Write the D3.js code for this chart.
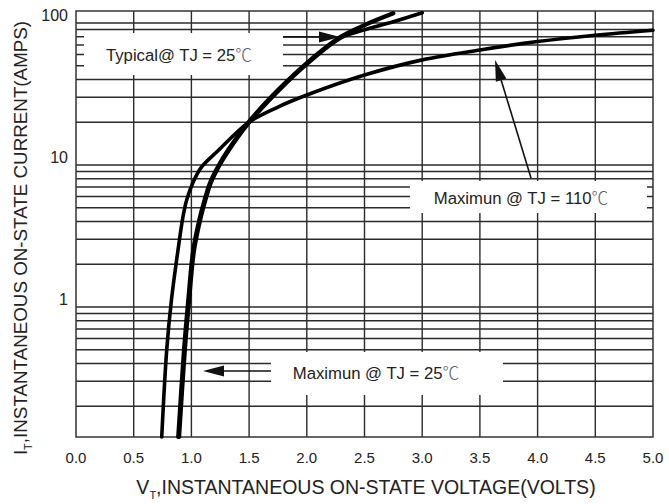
<!DOCTYPE html>
<html>
<head>
<meta charset="utf-8">
<script src="https://cdn.jsdelivr.net/npm/d3@7"></script>
<style>
  body { margin: 0; background: #fff; }
  svg { display: block; font-family: Arial, "Liberation Sans", sans-serif; }
</style>
</head>
<body>
<svg id="chart" width="669" height="504"></svg>
<script>
// on-state characteristic
var xTicks = [0, 0.5, 1.0, 1.5, 2.0, 2.5, 3.0, 3.5, 4.0, 4.5, 5.0];
var yTickLabels = [1, 10, 100];

var vTyp25 = [0.886, 0.936, 0.973, 1.016, 1.075, 1.114, 1.161, 1.23, 1.317, 1.49, 1.75, 2.0, 2.29, 2.5, 2.75];
var iTyp25 = [0.1215, 0.5, 1.12, 2.52, 4.32, 5.67, 7.48, 9.73, 12.7, 19.8, 33.7, 52.3, 79.6, 96.7, 117];

var vMax25 = [0.896, 0.946, 0.983, 1.026, 1.085, 1.124, 1.171, 1.24, 1.327, 1.5, 1.76, 2.01, 2.3, 2.5, 2.75, 3.0];
var iMax25 = [0.1215, 0.5, 1.12, 2.52, 4.32, 5.67, 7.48, 9.73, 12.7, 19.8, 33.5, 52, 79, 89.6, 102, 118];

var vMax110 = [0.743, 0.786, 0.827, 0.884, 0.927, 0.959, 1.012, 1.09, 1.235, 1.49, 1.75, 2.0, 2.5, 3.0, 3.5, 4.0, 4.5, 5.0];
var iMax110 = [0.1215, 0.498, 1.12, 2.52, 4.32, 5.67, 7.48, 9.73, 12.7, 19.8, 25.6, 31.1, 43, 55, 64.6, 74, 82, 89];

var svg = d3.select("#chart");
var plotL = 76, plotR = 653, plotT = 11, plotB = 437;

var x = d3.scaleLinear().domain([0, 5]).range([plotL, plotR]);
var y = d3.scaleLog().domain([0.1215, 121.5]).range([plotB, plotT]);

var gridColor = "#2b2b2b";

// horizontal log grid
svg.append("g")
  .selectAll("line")
  .data(y.ticks())
  .enter().append("line")
  .attr("x1", plotL).attr("x2", plotR)
  .attr("y1", function (d) { return y(d); })
  .attr("y2", function (d) { return y(d); })
  .attr("stroke", gridColor)
  .attr("stroke-width", 1.4);

// vertical grid
svg.append("g")
  .selectAll("line")
  .data(xTicks.slice(1, -1))
  .enter().append("line")
  .attr("x1", function (d) { return x(d); })
  .attr("x2", function (d) { return x(d); })
  .attr("y1", plotT).attr("y2", plotB)
  .attr("stroke", gridColor)
  .attr("stroke-width", 1.4);

// white label boxes knock out the grid
var boxes = [
  { x0: 84, x1: 283, y0: 33, y1: 75 },
  { x0: 410, x1: 647, y0: 181, y1: 213 },
  { x0: 271, x1: 503, y0: 352, y1: 395 }
];
svg.append("g")
  .selectAll("rect")
  .data(boxes)
  .enter().append("rect")
  .attr("x", function (d) { return d.x0; })
  .attr("y", function (d) { return d.y0; })
  .attr("width", function (d) { return d.x1 - d.x0; })
  .attr("height", function (d) { return d.y1 - d.y0; })
  .attr("fill", "#fff");

// frame
svg.append("rect")
  .attr("x", plotL).attr("y", plotT)
  .attr("width", plotR - plotL).attr("height", plotB - plotT)
  .attr("fill", "none")
  .attr("stroke", "#333")
  .attr("stroke-width", 1.5);

// curves
var line = d3.line()
  .x(function (d) { return x(d[0]); })
  .y(function (d) { return y(d[1]); })
  .curve(d3.curveCatmullRom.alpha(0.5));

function pairs(vs, is) {
  return vs.map(function (v, k) { return [v, is[k]]; });
}

var curves = [
  { pts: pairs(vMax110, iMax110), w: 3.6 },
  { pts: pairs(vMax25, iMax25), w: 3.6 },
  { pts: pairs(vTyp25, iTyp25), w: 4.2 }
];
svg.append("g")
  .selectAll("path")
  .data(curves)
  .enter().append("path")
  .attr("d", function (d) { return line(d.pts); })
  .attr("fill", "none")
  .attr("stroke", "#000")
  .attr("stroke-width", function (d) { return d.w; })
  .attr("stroke-linecap", "round")
  .attr("stroke-linejoin", "round");

// arrows
function arrow(x1, y1, x2, y2) {
  var len = 21, hw = 5.5;
  var dx = x2 - x1, dy = y2 - y1;
  var L = Math.sqrt(dx * dx + dy * dy);
  var ux = dx / L, uy = dy / L;
  var bx = x2 - ux * len, by = y2 - uy * len;
  svg.append("line")
    .attr("x1", x1).attr("y1", y1).attr("x2", bx).attr("y2", by)
    .attr("stroke", "#111").attr("stroke-width", 1.6);
  svg.append("path")
    .attr("d", "M" + x2 + "," + y2 +
      "L" + (bx - uy * hw) + "," + (by + ux * hw) +
      "L" + (bx + uy * hw) + "," + (by - ux * hw) + "Z")
    .attr("fill", "#111");
}
arrow(283, 37, 340, 37);
arrow(531, 178, 495, 60);
arrow(271, 371, 203, 371);

// annotation text
var notes = [
  { t: "Typical@ TJ = 25", x: 179, y: 61 },
  { t: "Maximun @ TJ = 110", x: 521, y: 204 },
  { t: "Maximun @ TJ = 25", x: 376, y: 379 }
];
notes.forEach(function (n) {
  var t = svg.append("text")
    .attr("x", n.x).attr("y", n.y)
    .attr("text-anchor", "middle")
    .attr("font-size", 16.7)
    .attr("fill", "#222")
    .text(n.t);
  t.append("tspan")
    .attr("fill", "#5a6070")
    .attr("font-family", "'Noto Sans CJK SC', sans-serif")
    .attr("font-weight", 300)
    .text("℃");
});

// x tick labels
svg.append("g")
  .selectAll("text")
  .data(xTicks)
  .enter().append("text")
  .attr("x", function (d) { return x(d); })
  .attr("y", 463)
  .attr("text-anchor", "middle")
  .attr("font-size", 15)
  .attr("fill", "#222")
  .text(function (d) { return d3.format(".1f")(d); });

// y tick labels
svg.append("g")
  .selectAll("text")
  .data(yTickLabels)
  .enter().append("text")
  .attr("x", 68)
  .attr("y", function (d) { return y(d) - 2.5; })
  .attr("text-anchor", "end")
  .attr("font-size", 16)
  .attr("fill", "#222")
  .text(function (d) { return d; });

// axis titles
var xt = svg.append("text")
  .attr("x", 366).attr("y", 494)
  .attr("text-anchor", "middle")
  .attr("font-size", 19.5)
  .attr("fill", "#222");
xt.append("tspan").text("V");
xt.append("tspan").attr("font-size", 11).attr("dy", 5).text("T");
xt.append("tspan").attr("dy", -5).text(",INSTANTANEOUS ON-STATE VOLTAGE(VOLTS)");

var yt = svg.append("text")
  .attr("transform", "translate(27,238) rotate(-90)")
  .attr("text-anchor", "middle")
  .attr("font-size", 18.8)
  .attr("fill", "#222");
yt.append("tspan").text("I");
yt.append("tspan").attr("font-size", 11).attr("dy", 5).text("T");
yt.append("tspan").attr("dy", -5).text(",INSTANTANEOUS ON-STATE CURRENT(AMPS)");
</script>
</body>
</html>
